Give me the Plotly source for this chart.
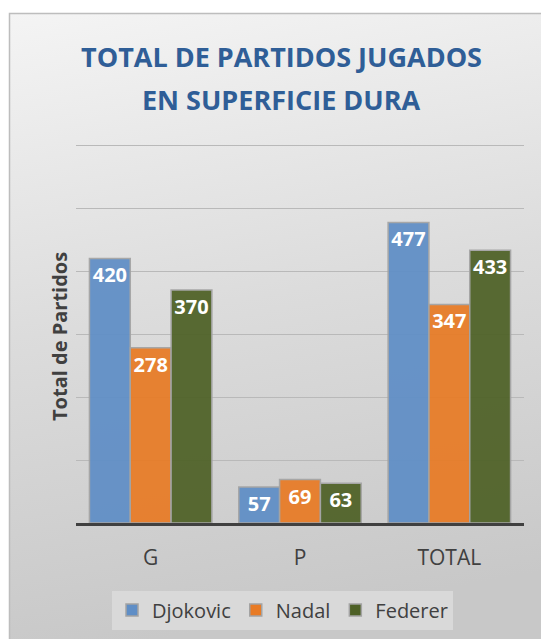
import plotly.graph_objects as go

categories = ["G", "P", "TOTAL"]
djokovic = [420, 57, 477]
nadal = [278, 69, 347]
federer = [370, 63, 433]
series_names = ["Djokovic", "Nadal", "Federer"]
series_values = [djokovic, nadal, federer]
series_colors = ["#5f8ec6", "#e87b25", "#4e6126"]

# page body has an 8px margin; size the figure so it fills the 549x639 window
OFF = 8
W, H = 549 - OFF, 639 - OFF


def px(xr):
    return (xr - OFF) / W


def py(yr):
    return 1 - (yr - OFF) / H


Y_MAX = 600
Y_TOP = 603  # a little headroom so the top gridline is drawn
BASE_Y, TOP_Y = 523, 145
top_px = BASE_Y - (BASE_Y - TOP_Y) * Y_TOP / Y_MAX

fig = go.Figure()
for name, vals, col in zip(series_names, series_values, series_colors):
    fig.add_trace(go.Bar(
        name=name, x=categories, y=vals,
        marker=dict(color=col, opacity=0.93, line=dict(color="#a3a3a3", width=1.5)),
        text=[str(v) for v in vals], textposition="inside", insidetextanchor="end",
        textfont=dict(family="Open Sans", size=20, color="white", weight="bold"),
        constraintext="none",
    ))

grad_svg = (
    "data:image/svg+xml;utf8,"
    "<svg xmlns='http://www.w3.org/2000/svg' width='100' height='100' preserveAspectRatio='none'>"
    "<defs><linearGradient id='g' x1='0' y1='0' x2='0.15' y2='1'>"
    "<stop offset='0' stop-color='%23f4f4f4'/>"
    "<stop offset='0.5' stop-color='%23dcdcdc'/>"
    "<stop offset='1' stop-color='%23c8c8c8'/>"
    "</linearGradient></defs>"
    "<rect width='100' height='100' fill='url(%23g)'/></svg>"
)

fx0, fy0 = 9.5, 13.5
fig.add_layout_image(dict(
    source=grad_svg, xref="paper", yref="paper",
    x=px(fx0), y=py(fy0), sizex=px(560) - px(fx0), sizey=py(fy0) - py(650),
    xanchor="left", yanchor="top", sizing="stretch", layer="below",
))
fig.add_shape(type="rect", xref="paper", yref="paper",
              x0=px(fx0), x1=px(560), y0=py(650), y1=py(fy0),
              line=dict(color="#bdbdbd", width=1.5), fillcolor="rgba(0,0,0,0)", layer="below")

title_font = dict(family="Open Sans", size=27, color="#2f5e97", weight="bold")
fig.add_annotation(text="TOTAL DE PARTIDOS JUGADOS", xref="paper", yref="paper",
                   x=px(281.5), y=py(56), xanchor="center", yanchor="middle",
                   showarrow=False, font=title_font)
fig.add_annotation(text="EN SUPERFICIE DURA", xref="paper", yref="paper",
                   x=px(281.5), y=py(100), xanchor="center", yanchor="middle",
                   showarrow=False, font=title_font)
fig.add_annotation(text="Total de Partidos", xref="paper", yref="paper",
                   x=px(60), y=py(337), xanchor="center", yanchor="middle",
                   textangle=-90, showarrow=False,
                   font=dict(family="Open Sans", size=20, color="#404040", weight="bold"))

fig.update_layout(
    width=W, height=H,
    margin=dict(l=0, r=0, t=0, b=0, autoexpand=False),
    paper_bgcolor="white", plot_bgcolor="rgba(0,0,0,0)",
    barmode="group", bargap=0.18, bargroupgap=0,
    showlegend=True,
    legend=dict(orientation="h", x=px(282.5), y=py(610), xanchor="center", yanchor="middle",
                bgcolor="#d9d9d9", font=dict(family="Open Sans", size=20, color="#404040"),
                itemclick=False),
    xaxis=dict(domain=[px(76), px(524)], automargin=False, showgrid=False, showline=True,
               linecolor="#404040", linewidth=3, ticks="", ticklabelstandoff=14,
               tickfont=dict(family="Open Sans", size=21, color="#404040")),
    yaxis=dict(domain=[py(BASE_Y), py(top_px)], automargin=False, range=[0, Y_TOP],
               tick0=0, dtick=100,
               showticklabels=False, showgrid=True, gridcolor="#b9b9b9", gridwidth=1.2,
               zeroline=False, showline=False),
)

fig.write_html("out.html")
